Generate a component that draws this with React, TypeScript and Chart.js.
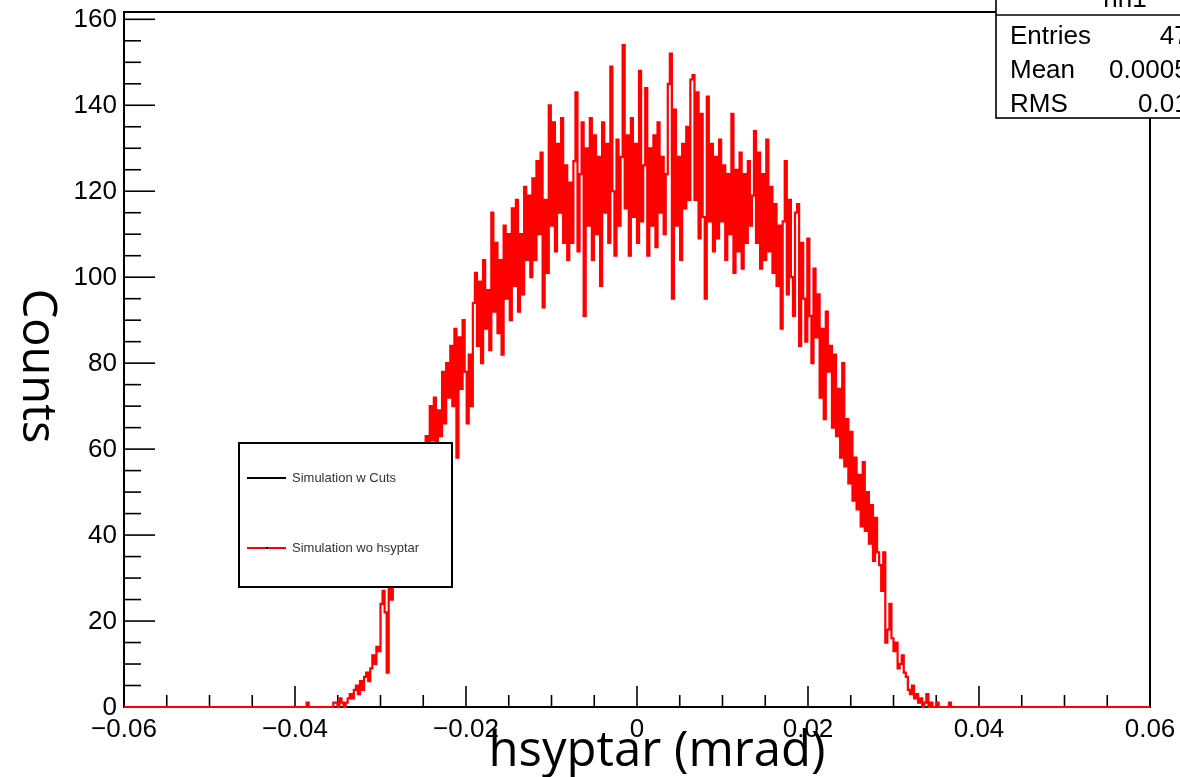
import React, { useEffect, useRef } from "react";
import { Chart, registerables } from "chart.js";

Chart.register(...registerables);

// ---- data ----
const X_MIN = -0.06;
const X_MAX = 0.06;
const N_BINS = 500;
const START_BIN = 88; // index of the first bin listed in `counts`
const Y_MAX = 161.7;

const counts: number[] = [
  0, 1, 0, 0, 0, 0, 0, 0, 0, 0,
  0, 0, 0, 0, 1, 1, 0, 2, 1, 0,
  1, 2, 3, 2, 4, 5, 3, 6, 4, 7,
  8, 6, 9, 12, 10, 14, 13, 24, 27, 22,
  8, 28, 25, 29, 33, 36, 31, 39, 42, 38,
  44, 40, 47, 50, 46, 53, 55, 51, 58, 63,
  58, 70, 62, 72, 60, 69, 63, 78, 66, 80,
  72, 84, 70, 88, 58, 86, 74, 90, 78, 66,
  82, 70, 94, 101, 84, 99, 80, 104, 88, 97,
  83, 115, 92, 108, 87, 104, 82, 112, 95, 110,
  90, 116, 98, 118, 92, 110, 96, 121, 104, 119,
  100, 123, 104, 127, 110, 129, 93, 118, 101, 140,
  112, 136, 106, 131, 115, 137, 108, 126, 104, 122,
  108, 127, 143, 106, 124, 136, 91, 130, 112, 137,
  104, 133, 110, 128, 98, 136, 115, 131, 108, 149,
  120, 105, 132, 112, 128, 154, 116, 133, 105, 137,
  114, 131, 108, 148, 113, 126, 144, 105, 130, 112,
  133, 107, 136, 115, 128, 110, 124, 145, 152, 95,
  139, 112, 128, 104, 131, 116, 135, 118, 146, 147,
  118, 143, 109, 138, 114, 95, 142, 113, 131, 106,
  128, 109, 132, 113, 126, 104, 124, 110, 138, 101,
  125, 106, 129, 102, 124, 108, 127, 112, 119, 134,
  108, 129, 102, 124, 104, 132, 106, 121, 101, 117,
  98, 112, 88, 113, 127, 96, 118, 100, 91, 115,
  117, 84, 108, 95, 85, 109, 91, 80, 102, 86,
  96, 72, 88, 67, 92, 78, 84, 65, 82, 63,
  74, 58, 80, 56, 67, 52, 64, 48, 58, 46,
  54, 42, 57, 41, 50, 38, 47, 34, 44, 36,
  33, 27, 36, 15, 18, 24, 16, 13, 15, 9,
  10, 12, 8, 7, 4, 3, 5, 2, 3, 1,
  2, 0, 1, 3, 0, 1, 0, 0, 1, 0,
  0, 0, 0, 0, 1, 0, 0, 0, 0, 0,
];

const xTickValues = [-0.06, -0.04, -0.02, 0, 0.02, 0.04, 0.06];
const xTickLabels = ["\u22120.06", "\u22120.04", "\u22120.02", "0", "0.02", "0.04", "0.06"];
const yTickValues = [0, 20, 40, 60, 80, 100, 120, 140, 160];
const yTickLabels = ["0", "20", "40", "60", "80", "100", "120", "140", "160"];

const seriesLabels = ["Simulation w Cuts", "Simulation wo hsyptar"];
const seriesColors = ["#000000", "#ff0000"];

const statsTitle = "hh1";
const statsNames = ["Entries", "Mean", "RMS"];
const statsValues = ["47129", "0.0005234", "0.01536"];

const xTitle = "hsyptar (mrad)";
const yTitle = "Counts";

const TICK_FONT = '26px "Liberation Sans", Arial, Helvetica, sans-serif';
const X_TITLE_FONT = '49px "Open Sans", "DejaVu Sans", sans-serif';
const Y_TITLE_FONT = '47px "Open Sans", "DejaVu Sans", sans-serif';

const rootStyle = {
  id: "rootStyle",
  beforeDatasetsDraw(chart: any) {
    const { ctx, chartArea: a, scales } = chart;
    const x = scales.x;
    const y = scales.y;
    ctx.save();
    // frame
    ctx.strokeStyle = "#000";
    ctx.lineWidth = 2;
    ctx.strokeRect(a.left, a.top, a.right - a.left, a.bottom - a.top);
    // y ticks (inward)
    ctx.lineWidth = 1.6;
    for (let k = 0; k <= 32; k++) {
      const v = k * 5;
      const py = y.getPixelForValue(v);
      const len = k % 4 === 0 ? 31 : 17;
      ctx.beginPath();
      ctx.moveTo(a.left, py);
      ctx.lineTo(a.left + len, py);
      ctx.stroke();
    }
    // x ticks (inward)
    for (let k = 0; k <= 24; k++) {
      const v = X_MIN + k * 0.005;
      const px = x.getPixelForValue(v);
      const len = k % 4 === 0 ? 21 : 12;
      ctx.beginPath();
      ctx.moveTo(px, a.bottom);
      ctx.lineTo(px, a.bottom - len);
      ctx.stroke();
    }
    // labels
    ctx.fillStyle = "#000";
    ctx.font = TICK_FONT;
    ctx.textAlign = "right";
    ctx.textBaseline = "middle";
    yTickValues.forEach((v, i) => {
      ctx.fillText(yTickLabels[i], a.left - 7, y.getPixelForValue(v) + 1);
    });
    ctx.textAlign = "center";
    ctx.textBaseline = "alphabetic";
    xTickValues.forEach((v, i) => {
      ctx.fillText(xTickLabels[i], x.getPixelForValue(v), a.bottom + 30);
    });
    ctx.restore();
  },
  afterDraw(chart: any) {
    const { ctx } = chart;
    ctx.save();
    // legend box
    const lx = 239, ly = 443, lw = 213, lh = 144;
    ctx.fillStyle = "#fff";
    ctx.fillRect(lx, ly, lw, lh);
    ctx.strokeStyle = "#000";
    ctx.lineWidth = 2;
    ctx.strokeRect(lx, ly, lw, lh);
    ctx.font = '13px "Liberation Sans", Arial, sans-serif';
    ctx.textAlign = "left";
    ctx.textBaseline = "middle";
    const rows = [478, 548];
    chart.data.datasets.forEach((ds: any, i: number) => {
      const ry = rows[i];
      ctx.strokeStyle = ds.borderColor;
      ctx.lineWidth = 2;
      ctx.beginPath();
      ctx.moveTo(247, ry);
      ctx.lineTo(286, ry);
      ctx.stroke();
      if (i === 1) {
        ctx.fillStyle = "#000";
        ctx.fillRect(266, ry - 1, 2, 2);
      }
      ctx.fillStyle = "#333";
      ctx.fillText(ds.label, 292, ry);
    });

    // stats box
    const sx = 996;
    ctx.fillStyle = "#fff";
    ctx.fillRect(sx, -5, 300, 123);
    ctx.strokeStyle = "#000";
    ctx.lineWidth = 1.6;
    ctx.strokeRect(sx, -5, 300, 123);
    ctx.beginPath();
    ctx.moveTo(sx, 15);
    ctx.lineTo(1300, 15);
    ctx.stroke();
    ctx.fillStyle = "#000";
    ctx.font = TICK_FONT;
    ctx.textAlign = "center";
    ctx.textBaseline = "alphabetic";
    ctx.fillText(statsTitle, 1125, 7);
    const baselines = [44, 78, 112];
    statsNames.forEach((n, i) => {
      ctx.textAlign = "left";
      ctx.fillText(n, 1010, baselines[i]);
      ctx.textAlign = "right";
      ctx.fillText(statsValues[i], 1232, baselines[i]);
    });

    // axis titles
    ctx.fillStyle = "#000";
    ctx.textAlign = "center";
    ctx.textBaseline = "alphabetic";
    ctx.font = X_TITLE_FONT;
    ctx.fillText(xTitle, 657, 766);
    ctx.font = Y_TITLE_FONT;
    ctx.translate(23, 366);
    ctx.rotate(Math.PI / 2);
    ctx.fillText(yTitle, 0, 0);
    ctx.restore();
  },
};

export default function App() {
  const ref = useRef<HTMLCanvasElement>(null);
  useEffect(() => {
    if (!ref.current) return;
    const binW = (X_MAX - X_MIN) / N_BINS;
    const pts: { x: number; y: number }[] = [{ x: X_MIN, y: 0 }];
    counts.forEach((c, k) => {
      pts.push({ x: X_MIN + (START_BIN + k) * binW, y: c });
    });
    pts.push({ x: X_MIN + (START_BIN + counts.length) * binW, y: 0 });
    pts.push({ x: X_MAX, y: 0 });

    const chart = new Chart(ref.current, {
      type: "line",
      data: {
        datasets: [
          {
            label: seriesLabels[0],
            data: [],
            borderColor: seriesColors[0],
            borderWidth: 2,
            pointRadius: 0,
          },
          {
            label: seriesLabels[1],
            data: pts,
            borderColor: seriesColors[1],
            borderWidth: 2.2,
            pointRadius: 0,
            stepped: true,
            tension: 0,
            clip: false as any,
          },
        ],
      },
      options: {
        animation: false,
        responsive: false,
        devicePixelRatio: 1,
        layout: { padding: { left: 124, right: 30, top: 12, bottom: 70 } },
        plugins: { legend: { display: false }, tooltip: { enabled: false } },
        scales: {
          x: { type: "linear", min: X_MIN, max: X_MAX, display: false },
          y: { type: "linear", min: 0, max: Y_MAX, display: false },
        },
      },
      plugins: [rootStyle],
    });
    return () => chart.destroy();
  }, []);

  return (
    <div style={{ position: "absolute", left: 0, top: 0, width: 1180, height: 777, background: "#fff" }}>
      <canvas ref={ref} width={1180} height={777} />
    </div>
  );
}
